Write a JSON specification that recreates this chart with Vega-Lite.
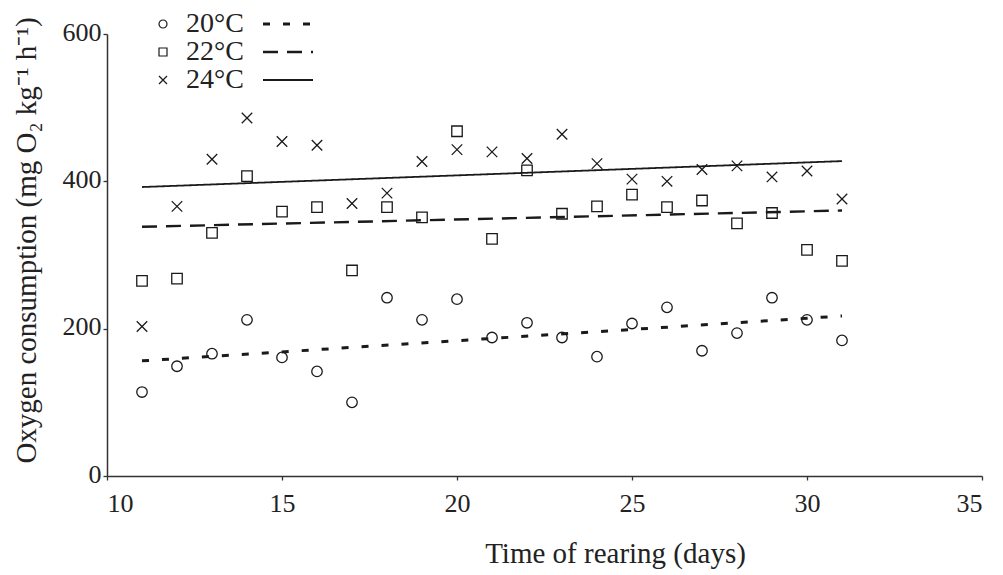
{
  "$schema": "https://vega.github.io/schema/vega-lite/v6.json",
  "width": 875,
  "height": 442,
  "autosize": {"type": "none"},
  "padding": {"left": 107, "top": 34, "right": 21, "bottom": 99},
  "background": "white",
  "config": {
    "view": {"stroke": null},
    "font": "Liberation Serif",
    "axis": {
      "grid": false,
      "domainColor": "#333333",
      "domainWidth": 1.5,
      "tickColor": "#333333",
      "tickWidth": 1.3,
      "tickSize": 4,
      "labelFont": "Liberation Serif",
      "labelFontSize": 26,
      "labelColor": "#222222",
      "titleFont": "Liberation Serif",
      "titleFontSize": 29,
      "titleFontWeight": "normal",
      "titleColor": "#222222"
    }
  },
  "data": {
    "values": [
      {"day": 11, "temp": "20°C", "value": 114},
      {"day": 12, "temp": "20°C", "value": 149},
      {"day": 13, "temp": "20°C", "value": 166},
      {"day": 14, "temp": "20°C", "value": 212},
      {"day": 15, "temp": "20°C", "value": 161},
      {"day": 16, "temp": "20°C", "value": 142},
      {"day": 17, "temp": "20°C", "value": 100},
      {"day": 18, "temp": "20°C", "value": 242},
      {"day": 19, "temp": "20°C", "value": 212},
      {"day": 20, "temp": "20°C", "value": 240},
      {"day": 21, "temp": "20°C", "value": 188},
      {"day": 22, "temp": "20°C", "value": 208},
      {"day": 23, "temp": "20°C", "value": 188},
      {"day": 24, "temp": "20°C", "value": 162},
      {"day": 25, "temp": "20°C", "value": 207},
      {"day": 26, "temp": "20°C", "value": 229},
      {"day": 27, "temp": "20°C", "value": 170},
      {"day": 28, "temp": "20°C", "value": 194},
      {"day": 29, "temp": "20°C", "value": 242},
      {"day": 30, "temp": "20°C", "value": 212},
      {"day": 31, "temp": "20°C", "value": 184},
      {"day": 11, "temp": "22°C", "value": 265},
      {"day": 12, "temp": "22°C", "value": 268},
      {"day": 13, "temp": "22°C", "value": 330},
      {"day": 14, "temp": "22°C", "value": 407},
      {"day": 15, "temp": "22°C", "value": 359},
      {"day": 16, "temp": "22°C", "value": 365},
      {"day": 17, "temp": "22°C", "value": 279},
      {"day": 18, "temp": "22°C", "value": 365},
      {"day": 19, "temp": "22°C", "value": 351},
      {"day": 20, "temp": "22°C", "value": 468},
      {"day": 21, "temp": "22°C", "value": 322},
      {"day": 22, "temp": "22°C", "value": 415},
      {"day": 23, "temp": "22°C", "value": 356},
      {"day": 24, "temp": "22°C", "value": 366},
      {"day": 25, "temp": "22°C", "value": 382},
      {"day": 26, "temp": "22°C", "value": 365},
      {"day": 27, "temp": "22°C", "value": 374},
      {"day": 28, "temp": "22°C", "value": 343},
      {"day": 29, "temp": "22°C", "value": 357},
      {"day": 30, "temp": "22°C", "value": 307},
      {"day": 31, "temp": "22°C", "value": 292},
      {"day": 11, "temp": "24°C", "value": 203},
      {"day": 12, "temp": "24°C", "value": 366},
      {"day": 13, "temp": "24°C", "value": 430},
      {"day": 14, "temp": "24°C", "value": 486},
      {"day": 15, "temp": "24°C", "value": 454},
      {"day": 16, "temp": "24°C", "value": 449},
      {"day": 17, "temp": "24°C", "value": 370},
      {"day": 18, "temp": "24°C", "value": 384},
      {"day": 19, "temp": "24°C", "value": 427},
      {"day": 20, "temp": "24°C", "value": 443},
      {"day": 21, "temp": "24°C", "value": 440},
      {"day": 22, "temp": "24°C", "value": 431},
      {"day": 23, "temp": "24°C", "value": 464},
      {"day": 24, "temp": "24°C", "value": 424},
      {"day": 25, "temp": "24°C", "value": 403},
      {"day": 26, "temp": "24°C", "value": 400},
      {"day": 27, "temp": "24°C", "value": 416},
      {"day": 28, "temp": "24°C", "value": 421},
      {"day": 29, "temp": "24°C", "value": 406},
      {"day": 30, "temp": "24°C", "value": 414},
      {"day": 31, "temp": "24°C", "value": 376}
    ]
  },
  "encoding": {
    "x": {
      "field": "day",
      "type": "quantitative",
      "scale": {"domain": [10, 35], "nice": false, "zero": false},
      "axis": {
        "values": [10, 15, 20, 25, 30, 35],
        "title": "Time of rearing (days)",
        "labelPadding": 10,
        "titleX": 508,
        "titleY": 86,
        "titleAlign": "center",
        "titleBaseline": "alphabetic",
        "titleAnchor": null
      }
    },
    "y": {
      "field": "value",
      "type": "quantitative",
      "scale": {"domain": [0, 600], "nice": false},
      "axis": {
        "values": [0, 200, 400, 600],
        "title": "Oxygen consumption (mg O₂ kg⁻¹ h⁻¹)",
        "labelPadding": 2,
        "labelOffset": -2,
        "titleX": -72,
        "titleY": 206,
        "titleAngle": 270,
        "titleAlign": "center",
        "titleBaseline": "alphabetic",
        "titleAnchor": null
      }
    }
  },
  "layer": [
    {
      "mark": {"type": "point", "filled": false, "size": 110, "strokeWidth": 1.3, "color": "#1a1a1a", "opacity": 1},
      "encoding": {
        "shape": {
          "field": "temp",
          "type": "nominal",
          "scale": {"range": ["circle", "square", "M-1,-1L1,1M-1,1L1,-1"]},
          "legend": {
            "orient": "none",
            "legendX": 42,
            "legendY": -24,
            "title": null,
            "padding": 0,
            "rowPadding": -1,
            "symbolSize": 64,
            "symbolStrokeWidth": 1.2,
            "symbolStrokeColor": "#1a1a1a",
            "symbolFillColor": "transparent",
            "labelFont": "Liberation Serif",
            "labelFontSize": 28,
            "labelColor": "#222222",
            "labelOffset": 9
          }
        }
      }
    },
    {
      "transform": [
        {"regression": "value", "on": "day", "groupby": ["temp"]}
      ],
      "mark": {"type": "line", "color": "#1a1a1a"},
      "encoding": {
        "strokeDash": {
          "field": "temp",
          "type": "nominal",
          "scale": {"range": [[7, 13], [15, 9], [1, 0]]},
          "legend": {
            "orient": "none",
            "legendX": 167,
            "legendY": -24,
            "title": null,
            "padding": 0,
            "rowPadding": -1,
            "symbolType": "M-5,0H5",
            "symbolSize": 100,
            "symbolStrokeColor": "#1a1a1a",
            "symbolFillColor": "transparent",
            "labelExpr": "''",
            "labelFontSize": 28
          }
        },
        "strokeWidth": {
          "field": "temp",
          "type": "ordinal",
          "scale": {"range": [3, 1.8]},
          "legend": {
            "orient": "none",
            "legendX": 167,
            "legendY": -24,
            "title": null,
            "padding": 0,
            "rowPadding": -1,
            "symbolType": "M-5,0H5",
            "symbolSize": 100,
            "symbolStrokeColor": "#1a1a1a",
            "symbolFillColor": "transparent",
            "labelExpr": "''",
            "labelFontSize": 28
          }
        }
      }
    }
  ]
}
